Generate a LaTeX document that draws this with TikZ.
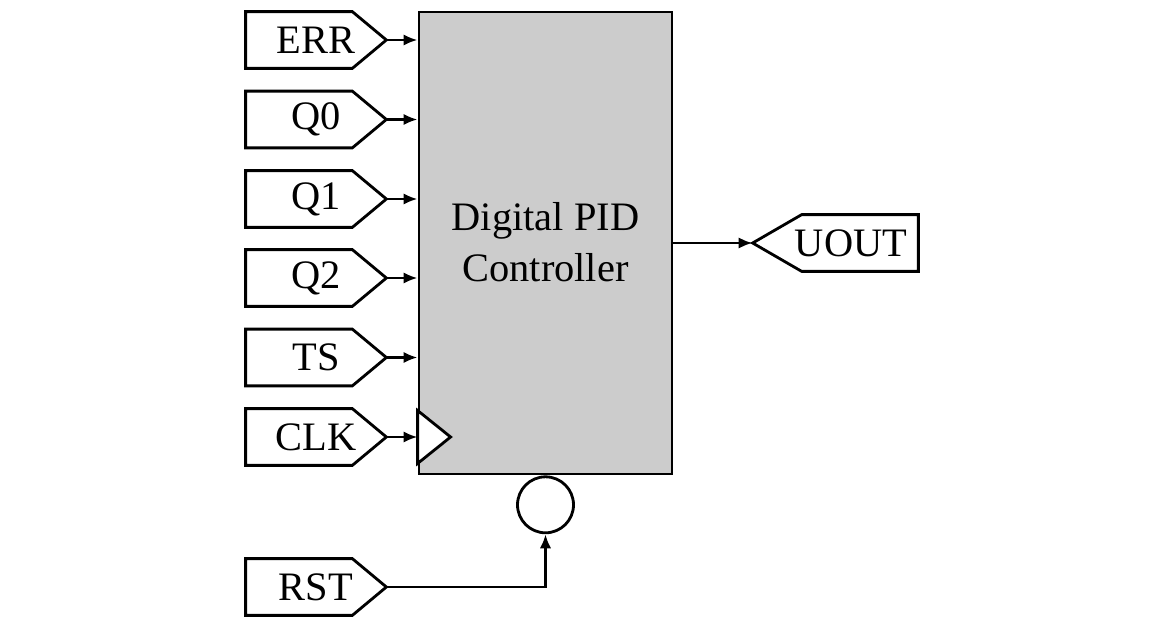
\documentclass[tikz,border=0pt]{standalone}
\usepackage{fontspec}
\setmainfont{Liberation Serif}
\usetikzlibrary{arrows.meta}
\tikzset{
  port/.style={minimum width=2.8cm,minimum height=1.12cm,inner sep=0pt},
  outline/.style={line width=1.6pt,line join=miter},
  sig/.style={line width=1.6pt,-{Latex[length=8pt,width=6.5pt]}}
}
\begin{document}
\begin{tikzpicture}[font=\fontsize{23}{29}\selectfont]
    \useasboundingbox (0,0) rectangle (23,12.32);
    \node[draw,outline,fill=black!20,minimum width=5.06cm,minimum height=9.24cm] (ctrl) at (10.91,7.46) {};
    \node[align=center] (title) at (10.91,7.47) {Digital PID\\Controller};
    % input ports
    \node[port] (err) at (6.32,11.52) {ERR};
    \node[port] (q0) at (6.32,9.93) {Q0};
    \node[port] (q1) at (6.32,8.34) {Q1};
    \node[port] (q2) at (6.32,6.76) {Q2};
    \node[port] (ts) at (6.32,5.17) {TS};
    \node[port] (clk) at (6.32,3.58) {CLK};
    \node[port] (rst) at (6.32,0.58) {RST};
    \foreach \n in {err,q0,q1,q2,ts,clk,rst}
      \draw[outline] (\n.north west) -- ([xshift=-0.68cm]\n.north east) -- (\n.east)
        -- ([xshift=-0.68cm]\n.south east) -- (\n.south west) -- cycle;
    % output port
    \node[port,minimum width=3.3cm] (uout) at (16.71,7.46) {\hspace*{0.62cm}UOUT};
    \draw[outline] (uout.north east) -- ([xshift=0.98cm]uout.north west) -- (uout.west)
      -- ([xshift=0.98cm]uout.south west) -- (uout.south east) -- cycle;
    % reset bubble and clock mark
    \node[draw,circle,outline,fill=white,minimum size=1.12cm,anchor=north] (rstc) at (ctrl.south) {};
    \draw[outline,fill=white] ([yshift=0.53cm]ctrl.west |- clk.east) -- ([xshift=0.66cm]ctrl.west |- clk.east)
      -- ([yshift=-0.53cm]ctrl.west |- clk.east) -- cycle;
    \foreach \n in {err,q0,q1,q2,ts,clk}
      \draw[sig] (\n.east) -- (\n.east -| ctrl.west);
    \draw[sig] (rst.east) -| (rstc.south);
    \draw[sig] (ctrl.east |- uout.west) -- (uout.west);
  \end{tikzpicture}
\end{document}
